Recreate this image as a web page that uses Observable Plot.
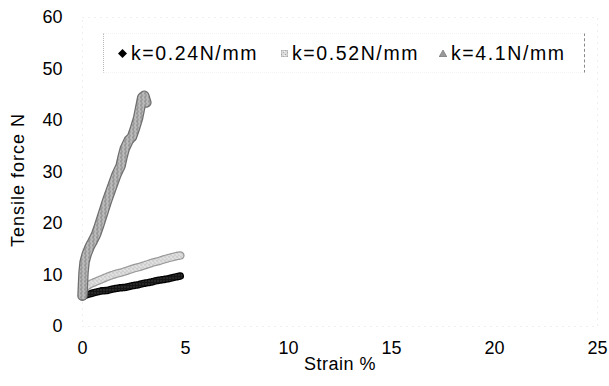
<!DOCTYPE html>
<html>
<head>
<meta charset="utf-8">
<script src="https://cdn.jsdelivr.net/npm/d3@7"></script>
<script src="https://cdn.jsdelivr.net/npm/@observablehq/plot@0.6"></script>
<style>
  html, body { margin: 0; padding: 0; background: #fff; }
  #chart { position: relative; width: 609px; height: 386px; font-family: "Liberation Sans", Arial, sans-serif; color: #000; }
  #legend { position: absolute; left: 103px; top: 33px; width: 480px; height: 38px;
            border-left: 1px dotted #b8b8b8; border-right: 1px dashed #8a8a8a;
            border-top: 1px dotted #f2f2f2; border-bottom: 1px dotted #f4f4f4; }
  .item { position: absolute; top: 0; height: 38px; display: flex; align-items: center;
          font-size: 19.5px; letter-spacing: 1.6px; white-space: nowrap; }
  .item svg { margin-right: 4px; }
</style>
</head>
<body>
<div id="chart"><div id="legend"></div></div>
<script>
// Tensile test: force vs. strain for three spring constants
const seriesNames = ["k=0.24N/mm", "k=0.52N/mm", "k=4.1N/mm"];

const strain024 = [0, 0.1, 0.3, 0.6, 0.9, 1.2, 1.5, 1.8, 2.1, 2.4, 2.7, 3.0, 3.3, 3.6, 3.9, 4.2, 4.5, 4.75];
const force024  = [5.8, 6.0, 6.3, 6.6, 6.9, 7.0, 7.3, 7.5, 7.6, 7.9, 8.1, 8.4, 8.6, 8.9, 9.1, 9.3, 9.6, 9.8];

const strain052 = [0, 0.05, 0.2, 0.4, 0.7, 1.0, 1.3, 1.6, 1.9, 2.2, 2.5, 2.8, 3.1, 3.4, 3.7, 4.0, 4.3, 4.6, 4.75];
const force052  = [6.2, 7.0, 7.8, 8.3, 8.8, 9.3, 9.8, 10.2, 10.5, 10.9, 11.3, 11.6, 12.0, 12.4, 12.7, 13.1, 13.4, 13.7, 13.8];

const strain41 = [0, 0.02, 0.05, 0.1, 0.2, 0.35, 0.5, 0.65, 0.8, 1.0, 1.2, 1.45, 1.65, 1.85, 1.95, 2.05, 2.25, 2.4, 2.55, 2.7, 2.8, 2.9, 3.0, 3.1];
const force41  = [6.0, 8.0, 10.5, 12.5, 14.0, 15.5, 16.6, 17.8, 19.5, 22.0, 24.5, 27.3, 29.5, 31.2, 33.0, 34.5, 36.2, 36.8, 38.5, 40.5, 42.5, 44.5, 44.8, 43.5];

const xTicks = [0, 5, 10, 15, 20, 25];
const yTicks = [0, 10, 20, 30, 40, 50, 60];

const toRows = (xs, ys) => xs.map((x, i) => ({strain: x, force: ys[i]}));
const rows024 = toRows(strain024, force024);
const rows052 = toRows(strain052, force052);
const rows41  = toRows(strain41, force41);

// each series is a dense run of markers, drawn as a grainy band with a speckled edge
function band(data, edge, fill, width) {
  return [
    Plot.line(data, {x: "strain", y: "force", stroke: edge, strokeWidth: width + 2.5,
      strokeDasharray: "1.2 1", strokeLinecap: "round", strokeLinejoin: "round"}),
    Plot.line(data, {x: "strain", y: "force", stroke: fill, strokeWidth: width,
      strokeLinecap: "round", strokeLinejoin: "round"})
  ];
}

const plot = Plot.plot({
  width: 609,
  height: 386,
  marginLeft: 82,
  marginRight: 12,
  marginTop: 17,
  marginBottom: 60,
  style: {fontFamily: "'Liberation Sans', Arial, sans-serif", fontSize: "18px", color: "#000", background: "#fff", overflow: "visible"},
  x: {domain: [0, 25], ticks: xTicks, tickSize: 0, tickPadding: 15, label: "Strain %", labelAnchor: "center", labelOffset: 43, labelArrow: "none"},
  y: {domain: [0, 60], ticks: yTicks, tickSize: 0, tickPadding: 20, label: "Tensile force N", labelAnchor: "center", labelOffset: 71, labelArrow: "none"},
  marks: [
    Plot.frame({stroke: "#a0a0a0", strokeDasharray: "1 5", strokeOpacity: 0.35}),
    ...band(rows024, "#000", "url(#grainDark)", 5),
    ...band(rows052, "#9a9a9a", "url(#grainLight)", 6),
    ...band(rows41, "#6e6e6e", "url(#grainMid)", 8)
  ]
});

// stipple fills used by the bands
const defs = document.createElementNS("http://www.w3.org/2000/svg", "defs");
defs.innerHTML = `
  <pattern id="grainMid" width="4" height="4" patternUnits="userSpaceOnUse">
    <rect width="4" height="4" fill="#ababab"/>
    <rect x="0" y="0" width="1" height="1" fill="#606060"/>
    <rect x="2" y="1" width="1" height="1" fill="#e8e8e8"/>
    <rect x="1" y="2" width="1" height="1" fill="#7a7a7a"/>
    <rect x="3" y="3" width="1" height="1" fill="#dedede"/>
  </pattern>
  <pattern id="grainLight" width="4" height="4" patternUnits="userSpaceOnUse">
    <rect width="4" height="4" fill="#dcdcdc"/>
    <rect x="0" y="0" width="1" height="1" fill="#a0a0a0"/>
    <rect x="2" y="2" width="1" height="1" fill="#ababab"/>
    <rect x="3" y="1" width="1" height="1" fill="#f8f8f8"/>
  </pattern>
  <pattern id="grainDark" width="3" height="3" patternUnits="userSpaceOnUse">
    <rect width="3" height="3" fill="#161616"/>
    <rect x="1" y="1" width="1" height="1" fill="#5c5c5c"/>
  </pattern>`;
plot.insertBefore(defs, plot.firstChild);

// axis title spacing
const xLab = plot.querySelector('g[aria-label="x-axis label"] text');
if (xLab) xLab.setAttribute("letter-spacing", "0.5");
const yLab = plot.querySelector('g[aria-label="y-axis label"] text');
if (yLab) {
  yLab.setAttribute("letter-spacing", "1");
  yLab.setAttribute("transform", "translate(0,8) " + (yLab.getAttribute("transform") || ""));
}

const chart = document.getElementById("chart");
chart.insertBefore(plot, chart.firstChild);

// legend
const legendSymbols = [
  `<svg width="9" height="9" viewBox="0 0 9 9"><path d="M4.5 0L9 4.5L4.5 9L0 4.5Z" fill="#000"/></svg>`,
  `<svg width="7" height="7" viewBox="0 0 7 7"><rect width="7" height="7" fill="url(#grainLight)" stroke="#a8a8a8" stroke-width="1"/></svg>`,
  `<svg width="8" height="7" viewBox="0 0 8 7"><path d="M4 0L8 7L0 7Z" fill="#9a9a9a" stroke="#6a6a6a" stroke-width="0.6"/></svg>`
];
const legendLeft = [14, 177, 335];
const legend = document.getElementById("legend");
seriesNames.forEach((name, i) => {
  const item = document.createElement("div");
  item.className = "item";
  item.style.left = legendLeft[i] + "px";
  item.innerHTML = legendSymbols[i] + `<span>${name}</span>`;
  legend.appendChild(item);
});
</script>
</body>
</html>
